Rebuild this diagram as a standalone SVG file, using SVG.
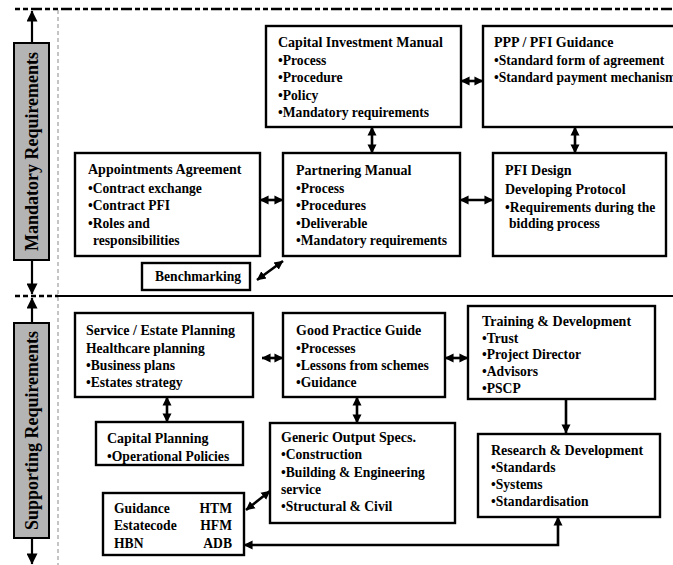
<svg xmlns="http://www.w3.org/2000/svg" width="673" height="565" viewBox="0 0 673 565">
  <style>
    text { font-family: "Liberation Serif", "Times New Roman", serif; font-weight: bold; fill: #000; }
    .t { font-size: 14px; }
    .i { font-size: 13.6px; }
    .box { fill: #fff; stroke: #000; stroke-width: 2.4; }
    .bar { fill: #b4b4b4; stroke: #000; stroke-width: 2; }
    .bar-label { font-size: 18px; }
    .c { stroke: #000; stroke-width: 2.6; fill: none; }
    .c2 { marker-start: url(#ah); marker-end: url(#ah); }
    .c1 { marker-end: url(#ah); }
    .side { stroke: #000; stroke-width: 2.2; fill: none; marker-start: url(#big); marker-end: url(#big); }
  </style>
  <defs>
    <marker id="ah" viewBox="0 0 10 10" refX="9.5" refY="5" markerWidth="9" markerHeight="11" markerUnits="userSpaceOnUse" orient="auto-start-reverse">
      <path d="M0,0 L10,5 L0,10 z" fill="#000"/>
    </marker>
    <marker id="big" viewBox="0 0 10 10" refX="9.5" refY="5" markerWidth="12" markerHeight="11" markerUnits="userSpaceOnUse" orient="auto-start-reverse">
      <path d="M0,0 L10,5 L0,10 z" fill="#000"/>
    </marker>
  </defs>

  <!-- section frame -->
  <g id="frame">
    <line x1="15" y1="9" x2="673" y2="9" stroke="#000" stroke-width="2.5" stroke-dasharray="5,3,5,3,11,3"/>
    <line x1="58" y1="10" x2="58" y2="565" stroke="#8a8a8a" stroke-width="1" stroke-dasharray="4,3"/>
    <line x1="15" y1="296" x2="58" y2="296" stroke="#000" stroke-width="2.5" stroke-dasharray="5,3"/>
    <line x1="58" y1="296" x2="673" y2="296" stroke="#000" stroke-width="2.2"/>
  </g>

  <!-- side labels -->
  <g id="mandatory">
    <line class="side" x1="32" y1="11" x2="32" y2="294"/>
    <rect class="bar" x="14" y="43" width="35" height="217"/>
    <text class="bar-label" transform="translate(38,151.5) rotate(-90)" text-anchor="middle">Mandatory Requirements</text>
  </g>
  <g id="supporting">
    <line class="side" x1="32" y1="298" x2="32" y2="564"/>
    <rect class="bar" x="14" y="323" width="35" height="215"/>
    <text class="bar-label" transform="translate(38,430.5) rotate(-90)" text-anchor="middle">Supporting Requirements</text>
  </g>

  <!-- connectors -->
  <g id="connectors">
    <line class="c c2" x1="461" y1="81" x2="483" y2="81"/>
    <line class="c c2" x1="372" y1="127" x2="372" y2="153"/>
    <line class="c c2" x1="575" y1="127" x2="575" y2="153"/>
    <line class="c c2" x1="260" y1="200" x2="283" y2="200"/>
    <line class="c c2" x1="460" y1="200" x2="493" y2="200"/>
    <line class="c c2" x1="257" y1="280" x2="283" y2="261"/>
    <line class="c c2" x1="262" y1="358" x2="283" y2="358"/>
    <line class="c c2" x1="445" y1="358" x2="468" y2="358"/>
    <line class="c c2" x1="167" y1="397" x2="167" y2="422"/>
    <line class="c c2" x1="357" y1="397" x2="357" y2="423"/>
    <line class="c c1" x1="566" y1="399" x2="566" y2="433"/>
    <line class="c c2" x1="246" y1="510" x2="270" y2="491"/>
    <polyline class="c c2" points="558,517 558,545 244,545"/>
  </g>

  <g id="capital-investment-manual">
    <rect class="box" x="266" y="26" width="195" height="101"/>
    <text class="t" x="278" y="47">Capital Investment Manual</text>
    <text class="i" x="278" y="64.5">•Process</text>
    <text class="i" x="278" y="82">•Procedure</text>
    <text class="i" x="278" y="99.5">•Policy</text>
    <text class="i" x="278" y="117">•Mandatory requirements</text>
  </g>

  <g id="ppp-pfi-guidance">
    <rect class="box" x="483" y="26" width="200" height="101"/>
    <text class="t" x="494" y="47">PPP / PFI Guidance</text>
    <text class="i" x="494" y="64.5">•Standard form of agreement</text>
    <text class="i" x="494" y="82">•Standard payment mechanism</text>
  </g>

  <g id="appointments-agreement">
    <rect class="box" x="75" y="153" width="185" height="103"/>
    <text class="t" x="88" y="174">Appointments Agreement</text>
    <text class="i" x="88" y="193">•Contract exchange</text>
    <text class="i" x="88" y="210">•Contract PFI</text>
    <text class="i" x="88" y="227.5">•Roles and</text>
    <text class="i" x="93" y="244.5">responsibilities</text>
  </g>

  <g id="partnering-manual">
    <rect class="box" x="283" y="153" width="177" height="103"/>
    <text class="t" x="296" y="175">Partnering Manual</text>
    <text class="i" x="296" y="193">•Process</text>
    <text class="i" x="296" y="210">•Procedures</text>
    <text class="i" x="296" y="227.5">•Deliverable</text>
    <text class="i" x="296" y="245">•Mandatory requirements</text>
  </g>

  <g id="pfi-design-protocol">
    <rect class="box" x="493" y="153" width="173" height="103"/>
    <text class="t" x="505" y="175">PFI Design</text>
    <text class="t" x="505" y="193.5">Developing Protocol</text>
    <text class="i" x="505" y="211.5">•Requirements during the</text>
    <text class="i" x="509" y="228">bidding process</text>
  </g>

  <g id="benchmarking">
    <rect class="box" x="142" y="263" width="108" height="27"/>
    <text class="i" x="155" y="281">Benchmarking</text>
  </g>

  <g id="service-estate-planning">
    <rect class="box" x="75" y="313" width="178" height="84"/>
    <text class="t" x="86" y="335">Service / Estate Planning</text>
    <text class="i" x="86" y="352.5">Healthcare planning</text>
    <text class="i" x="86" y="370">•Business plans</text>
    <text class="i" x="86" y="387">•Estates strategy</text>
  </g>

  <g id="good-practice-guide">
    <rect class="box" x="283" y="313" width="162" height="84"/>
    <text class="t" x="296" y="335">Good Practice Guide</text>
    <text class="i" x="296" y="352.5">•Processes</text>
    <text class="i" x="296" y="369.5">•Lessons from schemes</text>
    <text class="i" x="296" y="386.5">•Guidance</text>
  </g>

  <g id="training-development">
    <rect class="box" x="468" y="306" width="187" height="93"/>
    <text class="t" x="482" y="326">Training &amp; Development</text>
    <text class="i" x="482" y="342.5">•Trust</text>
    <text class="i" x="482" y="359">•Project Director</text>
    <text class="i" x="482" y="376">•Advisors</text>
    <text class="i" x="482" y="393">•PSCP</text>
  </g>

  <g id="capital-planning">
    <rect class="box" x="96" y="422" width="147" height="43"/>
    <text class="t" x="107" y="443">Capital Planning</text>
    <text class="i" x="107" y="460.5">•Operational Policies</text>
  </g>

  <g id="generic-output-specs">
    <rect class="box" x="270" y="423" width="185" height="100"/>
    <text class="t" x="281" y="442">Generic Output Specs.</text>
    <text class="i" x="281" y="459">•Construction</text>
    <text class="i" x="281" y="476.5">•Building &amp; Engineering</text>
    <text class="i" x="281" y="493.5">service</text>
    <text class="i" x="281" y="511">•Structural &amp; Civil</text>
  </g>

  <g id="research-development">
    <rect class="box" x="478" y="434" width="182" height="83"/>
    <text class="t" x="491" y="455">Research &amp; Development</text>
    <text class="i" x="491" y="472">•Standards</text>
    <text class="i" x="491" y="489">•Systems</text>
    <text class="i" x="491" y="506">•Standardisation</text>
  </g>

  <g id="guidance-references">
    <rect class="box" x="103" y="493" width="141" height="62"/>
    <text class="i" x="114" y="513">Guidance</text>
    <text class="i" x="114" y="530">Estatecode</text>
    <text class="i" x="114" y="547.5">HBN</text>
    <text class="i" x="232" y="513" text-anchor="end">HTM</text>
    <text class="i" x="232" y="530" text-anchor="end">HFM</text>
    <text class="i" x="232" y="547.5" text-anchor="end">ADB</text>
  </g>
</svg>
